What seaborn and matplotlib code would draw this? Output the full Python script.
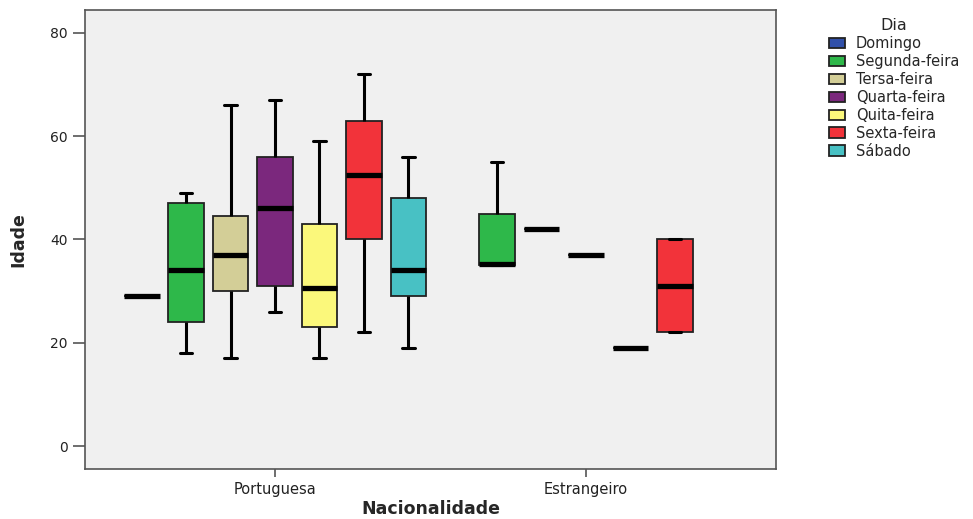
# =========================
# IMPORTS
# =========================
import pandas as pd
import numpy as np
import matplotlib
matplotlib.use("Agg")
import matplotlib.pyplot as plt
import seaborn as sns


# =========================
# DATA (five-number values, per group)
# =========================
NACIONALIDADES = ["Portuguesa", "Estrangeiro"]
DIAS = ["Domingo", "Segunda-feira", "Tersa-feira", "Quarta-feira",
        "Quita-feira", "Sexta-feira", "Sábado"]
CORES = ["#3150A9", "#2EB84A", "#D3CE97", "#7B287D",
         "#FBF87B", "#F2333A", "#48C1C4"]

# min, q1, median, q3, max
port_domingo = [29, 29, 29, 29, 29]
port_segunda = [18, 24, 34, 47, 49]
port_terca   = [17, 30, 37, 44.5, 66]
port_quarta  = [26, 31, 46, 56, 67]
port_quinta  = [17, 23, 30.5, 43, 59]
port_sexta   = [22, 40, 52.5, 63, 72]
port_sabado  = [19, 29, 34, 48, 56]

estr_segunda = [35, 35, 35.2, 45, 55]
estr_terca   = [42, 42, 42, 42, 42]
estr_quarta  = [37, 37, 37, 37, 37]
estr_quinta  = [19, 19, 19, 19, 19]
estr_sexta   = [22, 22, 31, 40, 40]

grupos = [
    ("Portuguesa", "Domingo", port_domingo),
    ("Portuguesa", "Segunda-feira", port_segunda),
    ("Portuguesa", "Tersa-feira", port_terca),
    ("Portuguesa", "Quarta-feira", port_quarta),
    ("Portuguesa", "Quita-feira", port_quinta),
    ("Portuguesa", "Sexta-feira", port_sexta),
    ("Portuguesa", "Sábado", port_sabado),
    ("Estrangeiro", "Segunda-feira", estr_segunda),
    ("Estrangeiro", "Tersa-feira", estr_terca),
    ("Estrangeiro", "Quarta-feira", estr_quarta),
    ("Estrangeiro", "Quita-feira", estr_quinta),
    ("Estrangeiro", "Sexta-feira", estr_sexta),
]

rows = []
for nac, dia, vals in grupos:
    for v in vals:
        rows.append({"Nacionalidade": nac, "Dia": dia, "Idade": v})
df = pd.DataFrame(rows)


# =========================
# PLOT
# =========================
sns.set_style("white")
plt.rcParams["font.family"] = ["DejaVu Sans"]

fig = plt.figure(figsize=(9.73, 5.19), dpi=100)
ax = fig.add_axes([0.0874, 0.0963, 0.7101, 0.8844])
ax.set_facecolor("#F0F0F0")

sns.boxplot(
    data=df, x="Nacionalidade", y="Idade", hue="Dia",
    order=NACIONALIDADES, hue_order=DIAS, palette=CORES,
    width=1.0, gap=0.2, linewidth=1.3, linecolor="#222222",
    showfliers=False, saturation=1,
    medianprops=dict(color="black", linewidth=3.8, solid_capstyle="butt"),
    whiskerprops=dict(color="black", linewidth=2.2),
    capprops=dict(color="black", linewidth=2.2),
    capwidths=0.04,
    ax=ax,
)

ax.set_xlim(-0.611, 1.611)
ax.set_ylim(-4.45, 84.4)
ax.set_yticks([0, 20, 40, 60, 80])

for s in ax.spines.values():
    s.set_color("#555555")
    s.set_linewidth(1.2)

ax.tick_params(axis="y", direction="out", length=9, width=1.2,
               color="#555555", labelsize=10, labelcolor="#222222", left=True)
ax.tick_params(axis="x", direction="out", length=6, width=1.2,
               color="#555555", labelsize=10.5, labelcolor="#222222", bottom=True)

ax.set_xlabel("Nacionalidade", fontsize=12.5, fontweight="bold", labelpad=2)
ax.set_ylabel("Idade", fontsize=12.5, fontweight="bold", labelpad=16,
              family=["Liberation Sans Narrow", "DejaVu Sans"])

sns.move_legend(
    ax, "upper left", bbox_to_anchor=(1.068, 0.995), frameon=False,
    title="Dia", fontsize=10.5, title_fontsize=11.5,
    handlelength=1.1, handleheight=0.7, handletextpad=0.75,
    labelspacing=0.2, borderaxespad=0,
)

plt.savefig("out.png", dpi=100)
